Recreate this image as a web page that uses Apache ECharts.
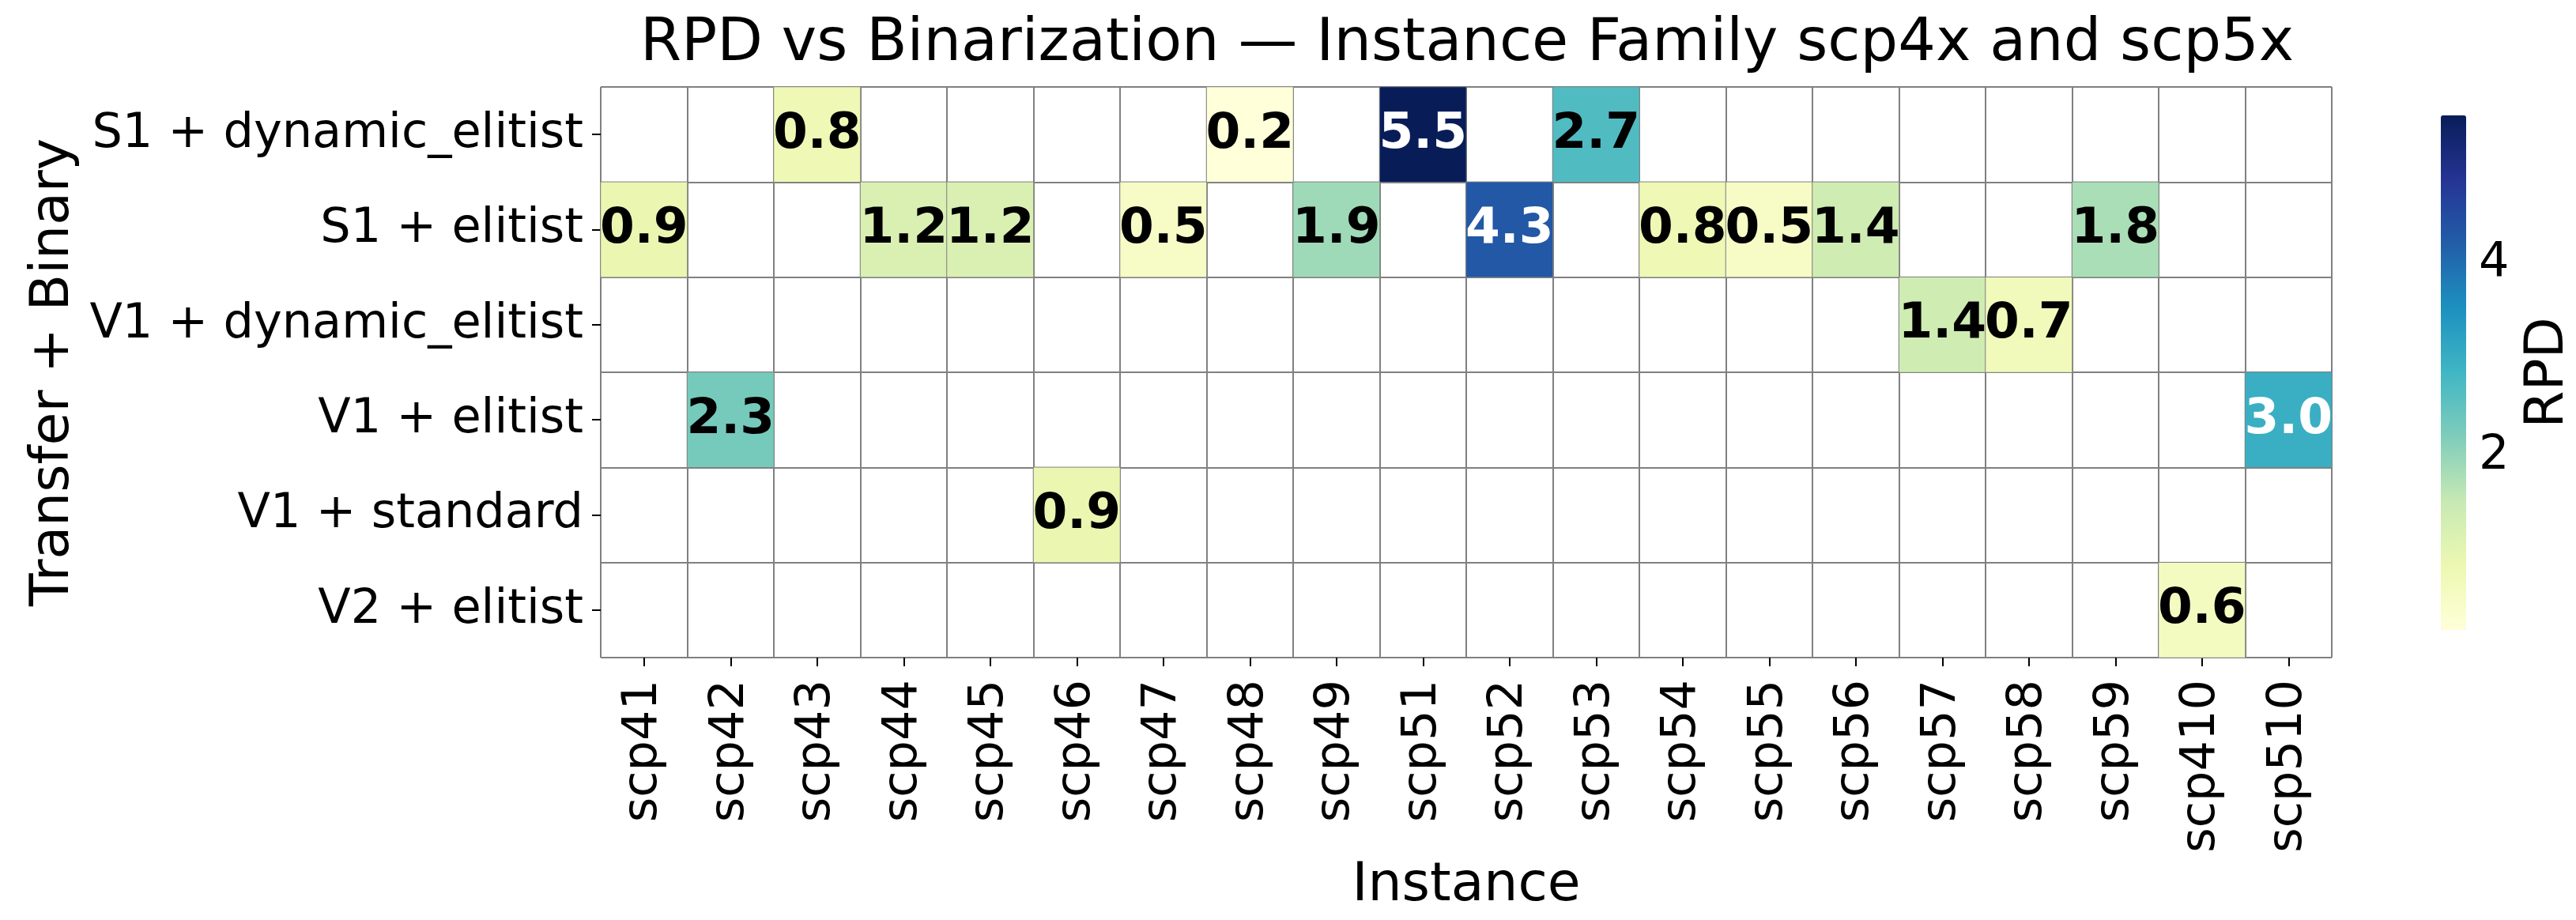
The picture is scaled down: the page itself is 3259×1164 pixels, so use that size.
<!DOCTYPE html>
<html>
<head>
<meta charset="utf-8">
<script src="https://cdn.jsdelivr.net/npm/echarts@6/dist/echarts.min.js"></script>
<style>html,body{margin:0;padding:0;background:#fff}#chart{width:3259px;height:1164px}</style>
</head>
<body>
<div id="chart"></div>
<script>
// ---- data ----
const instances = ['scp41','scp42','scp43','scp44','scp45','scp46','scp47','scp48','scp49',
  'scp51','scp52','scp53','scp54','scp55','scp56','scp57','scp58','scp59','scp410','scp510'];
const configs = ['S1 + dynamic_elitist','S1 + elitist','V1 + dynamic_elitist','V1 + elitist','V1 + standard','V2 + elitist'];
const rpdS1Dynamic = [null,null,0.8,null,null,null,null,0.2,null,5.53,null,2.7,null,null,null,null,null,null,null,null];
const rpdS1Elitist = [0.9,null,null,1.2,1.2,null,0.5,null,1.9,null,4.3,null,0.8,0.5,1.4,null,null,1.8,null,null];
const rpdV1Dynamic = [null,null,null,null,null,null,null,null,null,null,null,null,null,null,null,1.4,0.7,null,null,null];
const rpdV1Elitist = [null,2.3,null,null,null,null,null,null,null,null,null,null,null,null,null,null,null,null,null,3.0];
const rpdV1Standard = [null,null,null,null,null,0.9,null,null,null,null,null,null,null,null,null,null,null,null,null,null];
const rpdV2Elitist = [null,null,null,null,null,null,null,null,null,null,null,null,null,null,null,null,null,null,0.6,null];
const colorbarTicks = [2, 4];

const rows = [rpdS1Dynamic, rpdS1Elitist, rpdV1Dynamic, rpdV1Elitist, rpdV1Standard, rpdV2Elitist];
const ylgnbu = ['#ffffd9','#edf8b1','#c7e9b4','#7fcdbb','#41b6c4','#1d91c0','#225ea8','#253494','#081d58'];

const allVals = rows.flat().filter(v => v != null);
const vmin = Math.min(...allVals), vmax = Math.max(...allVals);

function hex2rgb(h){return [parseInt(h.substr(1,2),16),parseInt(h.substr(3,2),16),parseInt(h.substr(5,2),16)];}
function cmap(v){
  let t = (v - vmin) / (vmax - vmin); t = Math.max(0, Math.min(1, t));
  const p = t * (ylgnbu.length - 1); const i = Math.min(Math.floor(p), ylgnbu.length - 2); const f = p - i;
  const a = hex2rgb(ylgnbu[i]), b = hex2rgb(ylgnbu[i+1]);
  return a.map((c, k) => c + (b[k] - c) * f);
}
function lum(rgb){
  const c = rgb.map(x => { x = x / 255; return x <= 0.03928 ? x / 12.92 : Math.pow((x + 0.055) / 1.055, 2.4); });
  return 0.2126*c[0] + 0.7152*c[1] + 0.0722*c[2];
}
const data = [];
rows.forEach((arr, yi) => arr.forEach((v, xi) => {
  if (v != null) data.push({ value: [xi, yi, v], label: { color: lum(cmap(v)) > 0.408 ? '#000' : '#fff' } });
}));

const FONT = 'DejaVu Sans';
const chart = echarts.init(document.getElementById('chart'), null, { renderer: 'canvas' });
chart.setOption({
  backgroundColor: '#fff',
  animation: false,
  graphic: [{
    type: 'text', x: 1856, y: 57,
    style: { text: 'RPD vs Binarization — Instance Family scp4x and scp5x', fontSize: 75, fontFamily: FONT,
      align: 'center', verticalAlign: 'middle', fill: '#000' }
  }],
  grid: [
    { left: 760, top: 110, width: 2190, height: 722 },
    { left: 3088, top: 146, width: 32, height: 651 }
  ],
  xAxis: [
    { type: 'category', data: instances, gridIndex: 0, position: 'bottom',
      axisLine: { show: false },
      axisTick: { show: true, alignWithLabel: true, length: 11, lineStyle: { color: '#000', width: 2 } },
      axisLabel: { rotate: 90, fontSize: 60.5, fontFamily: FONT, color: '#000', margin: 28, interval: 0 },
      splitLine: { show: true, interval: 0, lineStyle: { color: '#808080', width: 2 } },
      name: 'Instance', nameLocation: 'middle', nameGap: 255,
      nameTextStyle: { fontSize: 68, fontFamily: FONT, color: '#000' } },
    { type: 'value', gridIndex: 1, show: false }
  ],
  yAxis: [
    { type: 'category', data: configs, gridIndex: 0, inverse: true,
      axisLine: { show: false },
      axisTick: { show: true, alignWithLabel: true, length: 11, lineStyle: { color: '#000', width: 2 } },
      axisLabel: { fontSize: 60.5, fontFamily: FONT, color: '#000', margin: 22, interval: 0 },
      splitLine: { show: true, interval: 0, lineStyle: { color: '#808080', width: 2 } },
      name: 'Transfer + Binary', nameLocation: 'middle', nameGap: 655, nameRotate: 90,
      nameTextStyle: { fontSize: 68, fontFamily: FONT, color: '#000' } },
    { type: 'value', gridIndex: 1, min: vmin, max: vmax, position: 'right',
      axisLine: { show: false }, splitLine: { show: false },
      axisTick: { show: true, customValues: colorbarTicks, length: 11, lineStyle: { color: '#000', width: 2 } },
      axisLabel: { customValues: colorbarTicks, fontSize: 60.5, fontFamily: FONT, color: '#000', margin: 22 },
      name: 'RPD', nameLocation: 'middle', nameGap: 76, nameRotate: 90,
      nameTextStyle: { fontSize: 68, fontFamily: FONT, color: '#000' } }
  ],
  visualMap: {
    type: 'continuous', min: vmin, max: vmax, seriesIndex: 0, calculable: false,
    orient: 'vertical', left: 3088, top: 146, itemWidth: 32, itemHeight: 651, padding: 0,
    text: null, showLabel: false, hoverLink: false,
    inRange: { color: ylgnbu }
  },
  series: [{
    type: 'heatmap', xAxisIndex: 0, yAxisIndex: 0, data: data,
    itemStyle: { borderColor: '#808080', borderWidth: 1 },
    label: { show: true, fontSize: 63, fontWeight: 'bold', fontFamily: FONT,
      formatter: p => p.value[2].toFixed(1) },
    emphasis: { disabled: true }
  }]
});
</script>
</body>
</html>
